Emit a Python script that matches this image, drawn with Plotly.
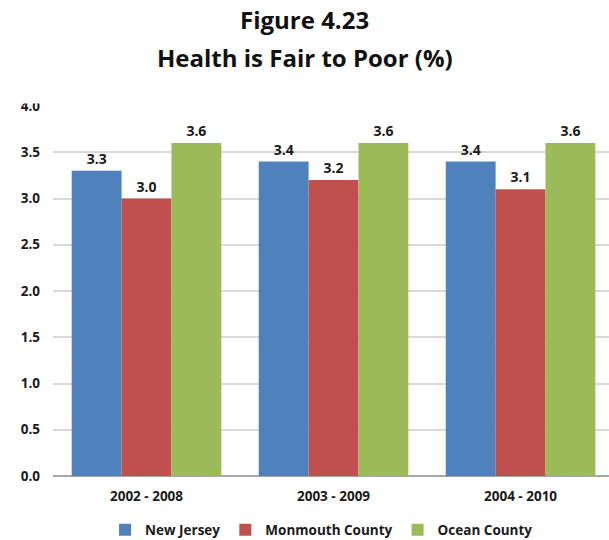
import plotly.graph_objects as go

# Survey periods and percentage of adults reporting fair/poor health
periods = ["2002 - 2008", "2003 - 2009", "2004 - 2010"]
new_jersey = [3.3, 3.4, 3.4]
monmouth = [3.0, 3.2, 3.1]
ocean = [3.6, 3.6, 3.6]
y_ticks = [0.0, 0.5, 1.0, 1.5, 2.0, 2.5, 3.0, 3.5, 4.0]
title_lines = ["Figure 4.23", "Health is Fair to Poor (%)"]

series = [
    ("New Jersey", new_jersey, "#4F81BD"),
    ("Monmouth County", monmouth, "#C0504D"),
    ("Ocean County", ocean, "#9BBB59"),
]

FONT = "Open Sans"
TEXT = "#1a1a1a"

fig = go.Figure()
for name, vals, color in series:
    fig.add_trace(go.Bar(
        name=name,
        x=periods,
        y=vals,
        marker=dict(color=color, line=dict(width=0)),
        text=[f"{v:.1f}" for v in vals],
        textposition="outside",
        textfont=dict(family=FONT, size=14, color=TEXT, weight="bold"),
        cliponaxis=False,
    ))

W, H = 609, 540
M_L, M_R, M_T, M_B = 53, 0, 106, 64
plot_w = W - M_L - M_R
plot_h = H - M_T - M_B

fig.update_layout(
    width=W,
    height=H,
    margin=dict(l=M_L, r=M_R, t=M_T, b=M_B),
    paper_bgcolor="white",
    plot_bgcolor="white",
    barmode="group",
    bargap=0.2,
    bargroupgap=0,
    font=dict(family=FONT, color=TEXT, size=14),
    showlegend=True,
    legend=dict(
        orientation="h",
        x=0.528,
        xanchor="center",
        xref="container",
        y=(H - 530) / H,
        yref="container",
        yanchor="middle",
        font=dict(family=FONT, size=13.5, color=TEXT, weight="bold"),
        itemwidth=30,
        traceorder="normal",
    ),
    xaxis=dict(
        type="category",
        range=[-0.5, 2.473],
        showgrid=False,
        showline=False,
        ticks="",
        ticklabelstandoff=10,
        tickfont=dict(family=FONT, size=13.5, color=TEXT, weight="bold"),
    ),
    yaxis=dict(
        range=[0, 4.0],
        tickvals=y_ticks,
        ticktext=[f"{v:.1f}" for v in y_ticks],
        showgrid=True,
        gridcolor="#D9D9D9",
        gridwidth=1.5,
        zeroline=True,
        zerolinecolor="#A6A6A6",
        zerolinewidth=1.5,
        ticks="",
        ticklabelstandoff=12,
        tickfont=dict(family=FONT, size=13.5, color=TEXT, weight="bold"),
    ),
)

# Two-line heading, centred on the page
for txt, cy in zip(title_lines, [20, 57]):
    fig.add_annotation(
        text=f"<b>{txt}</b>",
        x=(W / 2 - M_L) / plot_w, xref="paper", xanchor="center",
        y=1 + (M_T - cy) / plot_h, yref="paper", yanchor="middle",
        showarrow=False,
        font=dict(family=FONT, size=24, color="#111111"),
    )

# The top row of the axis area is trimmed just above the 4.0 gridline
fig.add_shape(
    type="rect", xref="paper", yref="paper",
    x0=-M_L / plot_w, x1=1,
    y0=1 + 2.5 / plot_h, y1=1 + 20 / plot_h,
    fillcolor="white", line=dict(width=0), layer="above",
)

fig.write_html("out.html")
